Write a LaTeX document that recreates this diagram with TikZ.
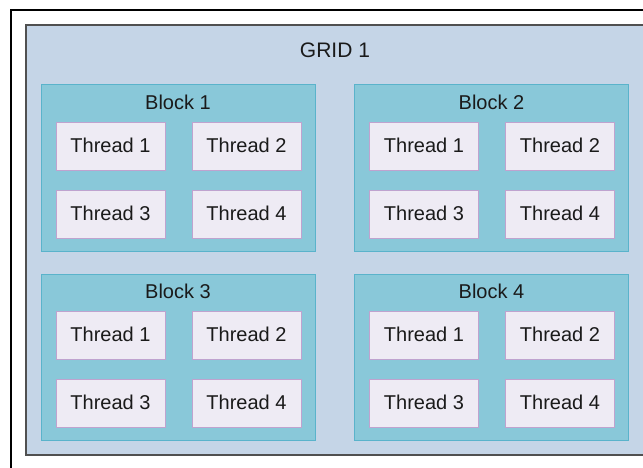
\documentclass[tikz,border=0pt]{standalone}
\usepackage{fontspec}
\setmainfont{Liberation Sans}
\definecolor{gridfill}{HTML}{C5D5E7}
\definecolor{gridline}{HTML}{505050}
\definecolor{blockfill}{HTML}{89C8D9}
\definecolor{blockline}{HTML}{5AB3CB}
\definecolor{threadfill}{HTML}{EEEBF4}
\definecolor{threadline}{HTML}{BFA3CF}
\definecolor{txt}{HTML}{1A1A1A}
\tikzset{
  blockbox/.style={draw=blockline, fill=blockfill, line width=1pt, minimum width=274pt, minimum height=166pt, inner sep=0pt},
  threadbox/.style={draw=threadline, fill=threadfill, line width=1pt, minimum width=109pt, minimum height=48pt, inner sep=0pt, font=\fontsize{20}{22}\selectfont, text=txt},
  threadtext/.style={font=\fontsize{20}{22}\selectfont, text=txt, inner sep=0pt},
  blocklabel/.style={font=\fontsize{20}{22}\selectfont, text=txt, inner sep=0pt},
}
\begin{document}
\begin{tikzpicture}[x=1pt,y=-1pt]
\useasboundingbox (0,0) rectangle (643,468);
\fill[white] (0,0) rectangle (643,468);
% outer frame (cropped)
\draw[black, line width=1.5pt] (11,468) -- (11,10) -- (643,10);
% grid
\fill[gridfill] (26,25) rectangle (643,455);
\draw[gridline, line width=1.2pt] (643,25) -- (26,25) -- (26,455) -- (643,455);
\node[font=\fontsize{21}{24}\selectfont, text=txt] (grid) at (335,50) {GRID 1};
\foreach \b/\cx/\cy in {1/178/168, 2/491.5/168, 3/178/357, 4/491.5/357}{
  \node[blockbox] (b\b) at (\cx,\cy) {};
  \node[blocklabel] (b\b l) at (\cx,\cy-66) {Block \b};
  \node[threadbox, text depth=2pt] (b\b t1) at (\cx-67.5,\cy-21.5) {Thread 1};
  \node[threadbox, text depth=2pt] (b\b t2) at (\cx+68.5,\cy-21.5) {Thread 2};
  \node[threadbox, text depth=2pt] (b\b t3) at (\cx-67.5,\cy+46.5) {Thread 3};
  \node[threadbox, text depth=2pt] (b\b t4) at (\cx+68.5,\cy+46.5) {Thread 4};
}
\end{tikzpicture}
\end{document}
